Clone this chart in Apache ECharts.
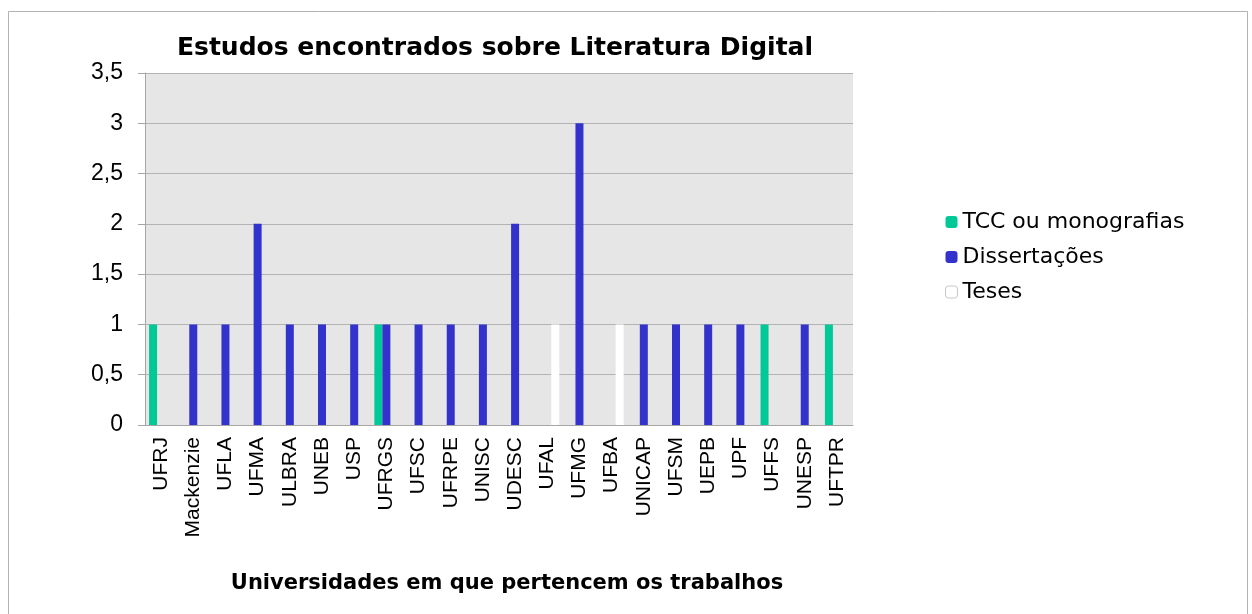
<!DOCTYPE html>
<html>
<head>
<meta charset="utf-8">
<script src="https://cdn.jsdelivr.net/npm/echarts@6/dist/echarts.min.js"></script>
<style>
  html, body { margin: 0; padding: 0; background: #fff; }
  #chart { width: 1252px; height: 614px; }
</style>
</head>
<body>
<div id="chart"></div>
<script>
const universidades = ["UFRJ", "Mackenzie", "UFLA", "UFMA", "ULBRA", "UNEB", "USP", "UFRGS", "UFSC", "UFRPE", "UNISC", "UDESC", "UFAL", "UFMG", "UFBA", "UNICAP", "UFSM", "UEPB", "UPF", "UFFS", "UNESP", "UFTPR"];
const tcc = [1, 0, 0, 0, 0, 0, 0, 1, 0, 0, 0, 0, 0, 0, 0, 0, 0, 0, 0, 1, 0, 1];
const dissertacoes = [0, 1, 1, 2, 1, 1, 1, 1, 1, 1, 1, 2, 0, 3, 0, 1, 1, 1, 1, 0, 1, 0];
const teses = [0, 0, 0, 0, 0, 0, 0, 0, 0, 0, 0, 0, 1, 0, 1, 0, 0, 0, 0, 0, 0, 0];

const arial = "'Liberation Sans', Arial, sans-serif";
const larga = "'DejaVu Sans', sans-serif";

const chart = echarts.init(document.getElementById("chart"));

const option = {
  backgroundColor: "#fff",
  animation: false,
  title: {
    text: "Estudos encontrados sobre Literatura Digital",
    left: 490,
    top: 31,
    textAlign: "center",
    textStyle: { fontFamily: larga, fontSize: 25, fontWeight: "bold", color: "#000" },
  },
  legend: {
    orient: "vertical",
    left: 940,
    top: 206,
    itemWidth: 12,
    itemHeight: 12,
    itemGap: 13,
    textStyle: { fontFamily: larga, fontSize: 22, color: "#000" },
    data: [
      { name: "TCC ou monografias" },
      { name: "Dissertações" },
      { name: "Teses", itemStyle: { color: "#fff", borderColor: "#c8c8c8", borderWidth: 1 } },
    ],
  },
  grid: { left: 145, right: 399, top: 73, bottom: 189 },
  xAxis: {
    type: "category",
    data: universidades,
    name: "Universidades em que pertencem os trabalhos",
    nameLocation: "middle",
    nameGap: 148,
    nameTextStyle: { fontFamily: larga, fontSize: 21, fontWeight: "bold", color: "#000", padding: [0, 0, 0, 16] },
    axisLine: { lineStyle: { color: "#a6a6a6" } },
    axisTick: { length: 7, lineStyle: { color: "#a6a6a6" } },
    axisLabel: { rotate: 90, fontFamily: arial, fontSize: 21, color: "#000", margin: 12, interval: 0 },
  },
  yAxis: {
    type: "value",
    min: 0,
    max: 3.5,
    interval: 0.5,
    axisLine: { show: true, lineStyle: { color: "#a6a6a6" } },
    axisTick: { show: true, length: 7, lineStyle: { color: "#a6a6a6" } },
    axisLabel: {
      fontFamily: arial,
      fontSize: 23,
      color: "#000",
      margin: 22,
      formatter: v => String(v).replace(".", ","),
    },
    splitLine: { lineStyle: { color: "#b3b3b3" } },
    splitArea: { show: true, areaStyle: { color: ["#e6e6e6", "#e6e6e6"] } },
  },
  series: [
    { name: "TCC ou monografias", type: "bar", data: tcc, barWidth: 8, barGap: "0%", itemStyle: { color: "#00c896" } },
    { name: "Dissertações", type: "bar", data: dissertacoes, barWidth: 8, barGap: "0%", itemStyle: { color: "#3333cc" } },
    { name: "Teses", type: "bar", data: teses, barWidth: 8, barGap: "0%", itemStyle: { color: "#ffffff" } },
  ],
  graphic: [
    {
      type: "rect",
      shape: { x: 8.5, y: 11.5, width: 1239, height: 620 },
      style: { fill: null, stroke: "#b3b3b3", lineWidth: 1 },
      silent: true,
    },
  ],
};

chart.setOption(option);
</script>
</body>
</html>
